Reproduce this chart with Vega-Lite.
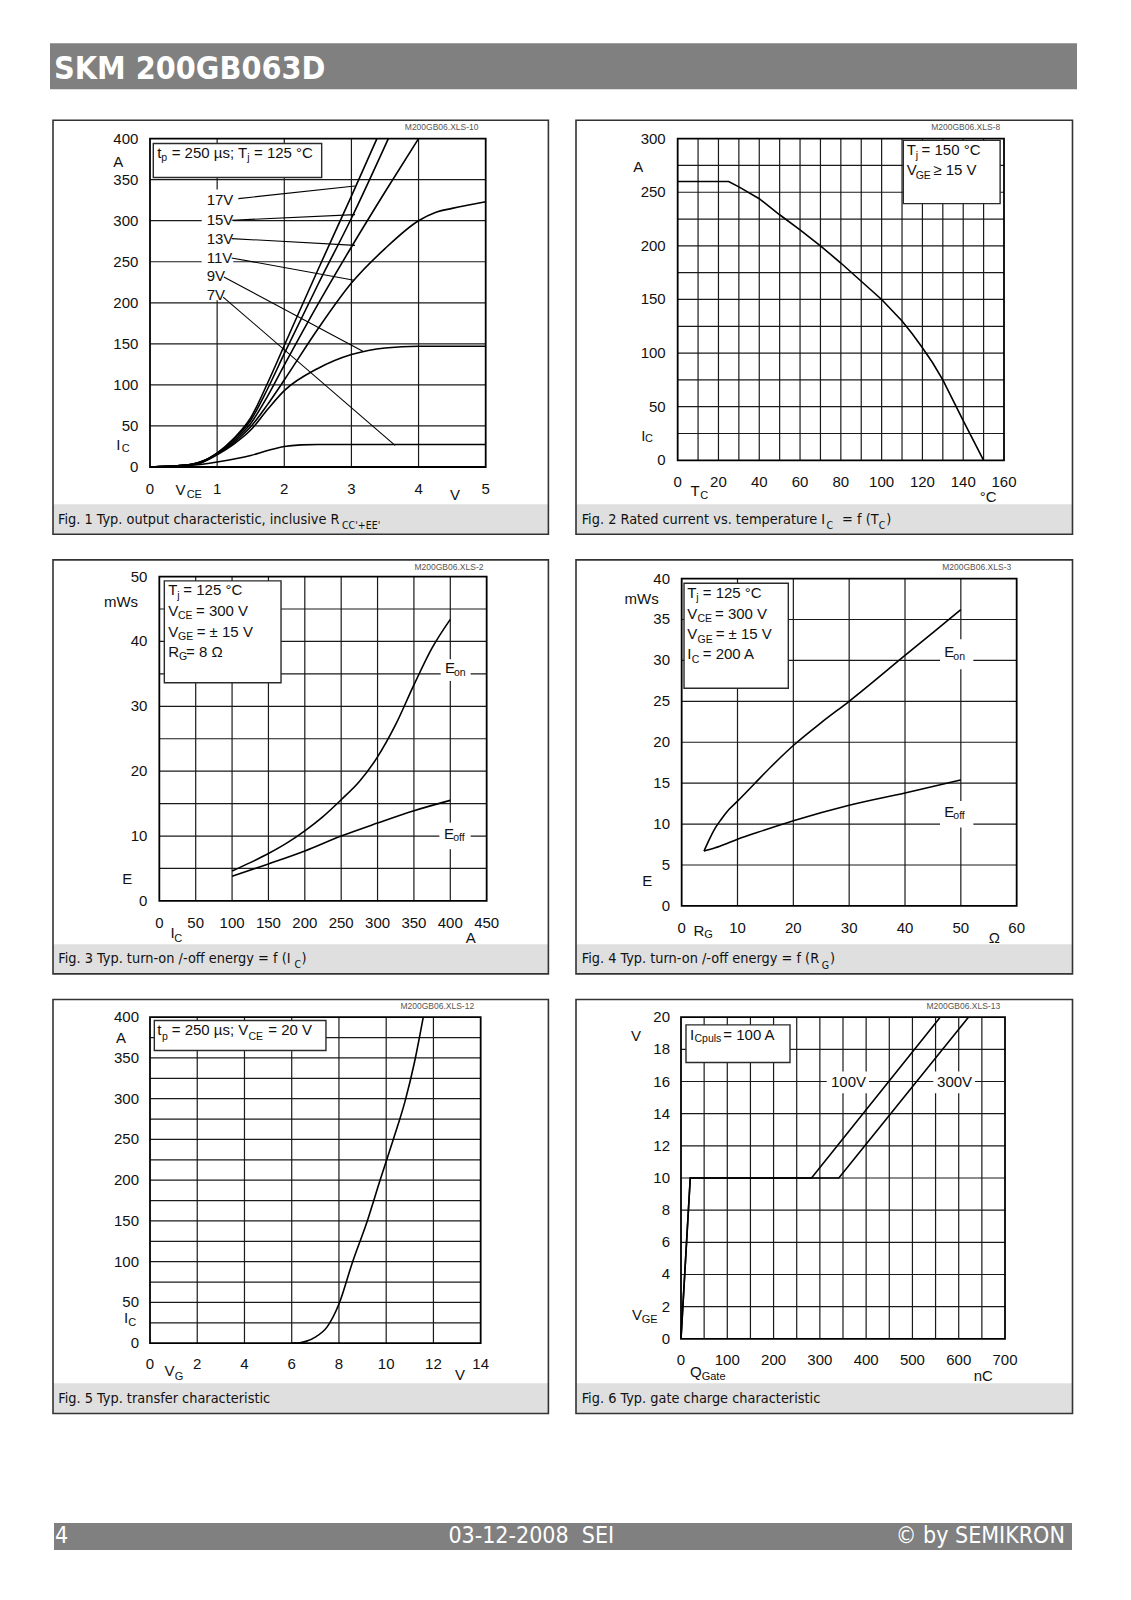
{
"$schema":"https://vega.github.io/schema/vega-lite/v6.json",
"background":"#ffffff",
"padding":{"left":50,"top":43,"right":0,"bottom":0},
"spacing":21.6,
"resolve":{"scale":{"x":"independent","y":"independent"}},
"config":{"view":{"stroke":null},"text":{"font":"Liberation Sans","color":"#111111"}},
"datasets":{"figs":[
{"f":"1","k":"dom","x":-1.4894,"x2":5.9577,"y":-84.04,"y2":424.36},
{"f":"1","k":"band","x":-1.4447,"x2":5.9339,"y":-81.97,"y2":-45.43},
{"f":"1","k":"frame","x":-1.4447,"x2":5.9339,"y":-81.97,"y2":422.29},
{"f":"1","k":"border","x":0,"x2":5,"y":0,"y2":400},
{"f":"1","k":"g","x":1,"x2":1,"y":0,"y2":400},
{"f":"1","k":"g","x":2,"x2":2,"y":0,"y2":400},
{"f":"1","k":"g","x":3,"x2":3,"y":0,"y2":400},
{"f":"1","k":"g","x":4,"x2":4,"y":0,"y2":400},
{"f":"1","k":"g","x":0,"x2":5,"y":50,"y2":50},
{"f":"1","k":"g","x":0,"x2":5,"y":100,"y2":100},
{"f":"1","k":"g","x":0,"x2":5,"y":150,"y2":150},
{"f":"1","k":"g","x":0,"x2":5,"y":200,"y2":200},
{"f":"1","k":"g","x":0,"x2":5,"y":250,"y2":250},
{"f":"1","k":"g","x":0,"x2":5,"y":300,"y2":300},
{"f":"1","k":"g","x":0,"x2":5,"y":350,"y2":350},
{"f":"1","k":"m","x":0.77,"x2":1.24,"y":203,"y2":338},
{"f":"1","k":"box","x":0.049,"x2":2.557,"y":352.6,"y2":394},
{"f":"1","k":"c","s":"17V","x":0,"y":0},{"f":"1","k":"c","s":"17V","x":0.5,"y":2},{"f":"1","k":"c","s":"17V","x":0.75,"y":6},{"f":"1","k":"c","s":"17V","x":1,"y":17},{"f":"1","k":"c","s":"17V","x":1.25,"y":35},{"f":"1","k":"c","s":"17V","x":1.5,"y":60},{"f":"1","k":"c","s":"17V","x":1.75,"y":102},{"f":"1","k":"c","s":"17V","x":2,"y":148},{"f":"1","k":"c","s":"17V","x":2.5,"y":240},{"f":"1","k":"c","s":"17V","x":3,"y":330},{"f":"1","k":"c","s":"17V","x":3.38,"y":400},
{"f":"1","k":"c","s":"15V","x":0,"y":0},{"f":"1","k":"c","s":"15V","x":0.5,"y":2},{"f":"1","k":"c","s":"15V","x":0.75,"y":6},{"f":"1","k":"c","s":"15V","x":1,"y":17},{"f":"1","k":"c","s":"15V","x":1.25,"y":34},{"f":"1","k":"c","s":"15V","x":1.5,"y":57},{"f":"1","k":"c","s":"15V","x":1.75,"y":95},{"f":"1","k":"c","s":"15V","x":2,"y":138},{"f":"1","k":"c","s":"15V","x":2.5,"y":222},{"f":"1","k":"c","s":"15V","x":3,"y":303},{"f":"1","k":"c","s":"15V","x":3.55,"y":400},
{"f":"1","k":"c","s":"13V","x":0,"y":0},{"f":"1","k":"c","s":"13V","x":0.5,"y":2},{"f":"1","k":"c","s":"13V","x":0.75,"y":6},{"f":"1","k":"c","s":"13V","x":1,"y":16},{"f":"1","k":"c","s":"13V","x":1.25,"y":32},{"f":"1","k":"c","s":"13V","x":1.5,"y":53},{"f":"1","k":"c","s":"13V","x":1.75,"y":86},{"f":"1","k":"c","s":"13V","x":2,"y":124},{"f":"1","k":"c","s":"13V","x":2.5,"y":198},{"f":"1","k":"c","s":"13V","x":3,"y":268},{"f":"1","k":"c","s":"13V","x":3.5,"y":335},{"f":"1","k":"c","s":"13V","x":4,"y":400},
{"f":"1","k":"c","s":"11V","x":0,"y":0},{"f":"1","k":"c","s":"11V","x":0.5,"y":2},{"f":"1","k":"c","s":"11V","x":0.75,"y":5},{"f":"1","k":"c","s":"11V","x":1,"y":16},{"f":"1","k":"c","s":"11V","x":1.25,"y":30},{"f":"1","k":"c","s":"11V","x":1.5,"y":49},{"f":"1","k":"c","s":"11V","x":1.75,"y":76},{"f":"1","k":"c","s":"11V","x":2,"y":106},{"f":"1","k":"c","s":"11V","x":2.5,"y":168},{"f":"1","k":"c","s":"11V","x":3,"y":224},{"f":"1","k":"c","s":"11V","x":3.5,"y":266},{"f":"1","k":"c","s":"11V","x":4,"y":300},{"f":"1","k":"c","s":"11V","x":4.25,"y":310},{"f":"1","k":"c","s":"11V","x":4.5,"y":315},{"f":"1","k":"c","s":"11V","x":5,"y":323},
{"f":"1","k":"c","s":"9V","x":0,"y":0},{"f":"1","k":"c","s":"9V","x":0.5,"y":2},{"f":"1","k":"c","s":"9V","x":0.75,"y":5},{"f":"1","k":"c","s":"9V","x":1,"y":15},{"f":"1","k":"c","s":"9V","x":1.25,"y":28},{"f":"1","k":"c","s":"9V","x":1.5,"y":45},{"f":"1","k":"c","s":"9V","x":1.75,"y":70},{"f":"1","k":"c","s":"9V","x":2,"y":93},{"f":"1","k":"c","s":"9V","x":2.5,"y":120},{"f":"1","k":"c","s":"9V","x":3,"y":137},{"f":"1","k":"c","s":"9V","x":3.25,"y":142},{"f":"1","k":"c","s":"9V","x":3.5,"y":145},{"f":"1","k":"c","s":"9V","x":4,"y":147},{"f":"1","k":"c","s":"9V","x":5,"y":147},
{"f":"1","k":"c","s":"7V","x":0,"y":0},{"f":"1","k":"c","s":"7V","x":0.5,"y":1},{"f":"1","k":"c","s":"7V","x":0.75,"y":3},{"f":"1","k":"c","s":"7V","x":1,"y":6},{"f":"1","k":"c","s":"7V","x":1.5,"y":14},{"f":"1","k":"c","s":"7V","x":1.75,"y":20},{"f":"1","k":"c","s":"7V","x":2,"y":25},{"f":"1","k":"c","s":"7V","x":2.25,"y":27},{"f":"1","k":"c","s":"7V","x":2.5,"y":27.5},{"f":"1","k":"c","s":"7V","x":5,"y":27.5},
{"f":"1","k":"p","x":1.316,"y":326.9,"x2":3.054,"y2":342.3},
{"f":"1","k":"p","x":1.216,"y":300.5,"x2":3.054,"y2":307.4},
{"f":"1","k":"p","x":1.216,"y":278.2,"x2":3.054,"y2":270},
{"f":"1","k":"p","x":1.216,"y":254.6,"x2":3.04,"y2":227.4},
{"f":"1","k":"p","x":1.1,"y":231.5,"x2":3.17,"y2":141},
{"f":"1","k":"p","x":1.09,"y":207,"x2":3.65,"y2":26.4},
{"f":"1","k":"yl","x":-0.174,"y":0,"t":"0"},{"f":"1","k":"yl","x":-0.174,"y":50,"t":"50"},{"f":"1","k":"yl","x":-0.174,"y":100,"t":"100"},{"f":"1","k":"yl","x":-0.174,"y":150,"t":"150"},{"f":"1","k":"yl","x":-0.174,"y":200,"t":"200"},{"f":"1","k":"yl","x":-0.174,"y":250,"t":"250"},{"f":"1","k":"yl","x":-0.174,"y":300,"t":"300"},{"f":"1","k":"yl","x":-0.174,"y":350,"t":"350"},{"f":"1","k":"yl","x":-0.174,"y":400,"t":"400"},
{"f":"1","k":"xl","x":0,"y":-26.3,"t":"0"},{"f":"1","k":"xl","x":1,"y":-26.3,"t":"1"},{"f":"1","k":"xl","x":2,"y":-26.3,"t":"2"},{"f":"1","k":"xl","x":3,"y":-26.3,"t":"3"},{"f":"1","k":"xl","x":4,"y":-26.3,"t":"4"},{"f":"1","k":"xl","x":5,"y":-26.3,"t":"5"},
{"f":"1","k":"tc","x":-0.472,"y":371.5,"t":"A"},{"f":"1","k":"tc","x":-0.472,"y":26.4,"t":"I"},{"f":"1","k":"tc","x":0.454,"y":-28.4,"t":"V"},{"f":"1","k":"tc","x":4.543,"y":-34.5,"t":"V"},
{"f":"1","k":"sm","x":-0.422,"y":22.4,"t":"C"},{"f":"1","k":"sm","x":0.546,"y":-34.5,"t":"CE"},
{"f":"1","k":"tl","x":0.844,"y":324.8,"t":"17V"},{"f":"1","k":"tl","x":0.844,"y":301.3,"t":"15V"},{"f":"1","k":"tl","x":0.844,"y":278.2,"t":"13V"},{"f":"1","k":"tl","x":0.844,"y":255,"t":"11V"},{"f":"1","k":"tl","x":0.844,"y":232.3,"t":"9V"},{"f":"1","k":"tl","x":0.844,"y":209.1,"t":"7V"},
{"f":"1","k":"ta","x":0.109,"y":376.4,"t":"t"},{"f":"1","k":"ta","x":0.323,"y":376.4,"t":"= 250 µs; T"},{"f":"1","k":"ta","x":1.549,"y":376.4,"t":"= 125 °C"},
{"f":"1","k":"sa","x":0.168,"y":372.3,"t":"p"},{"f":"1","k":"sa","x":1.45,"y":372.3,"t":"j"},
{"f":"1","k":"cap","x":-1.37,"y":-68.9,"t":"Fig. 1 Typ. output characteristic, inclusive R"},
{"f":"1","k":"caps","x":2.86,"y":-75,"t":"CC'+EE'"},
{"f":"1","k":"fid","x":4.344,"y":414.2,"t":"M200GB06.XLS-10"},

{"f":"2","k":"dom","x":-51.32,"x2":193.83,"y":-70.6,"y2":318.69},
{"f":"2","k":"band","x":-49.85,"x2":193.58,"y":-69.02,"y2":-41.04},
{"f":"2","k":"frame","x":-49.85,"x2":193.58,"y":-69.02,"y2":317.11},
{"f":"2","k":"border","x":0,"x2":160,"y":0,"y2":300},
{"f":"2","k":"g","x":10,"x2":10,"y":0,"y2":300},{"f":"2","k":"g","x":20,"x2":20,"y":0,"y2":300},{"f":"2","k":"g","x":30,"x2":30,"y":0,"y2":300},{"f":"2","k":"g","x":40,"x2":40,"y":0,"y2":300},{"f":"2","k":"g","x":50,"x2":50,"y":0,"y2":300},{"f":"2","k":"g","x":60,"x2":60,"y":0,"y2":300},{"f":"2","k":"g","x":70,"x2":70,"y":0,"y2":300},{"f":"2","k":"g","x":80,"x2":80,"y":0,"y2":300},{"f":"2","k":"g","x":90,"x2":90,"y":0,"y2":300},{"f":"2","k":"g","x":100,"x2":100,"y":0,"y2":300},{"f":"2","k":"g","x":110,"x2":110,"y":0,"y2":300},{"f":"2","k":"g","x":120,"x2":120,"y":0,"y2":300},{"f":"2","k":"g","x":130,"x2":130,"y":0,"y2":300},{"f":"2","k":"g","x":140,"x2":140,"y":0,"y2":300},{"f":"2","k":"g","x":150,"x2":150,"y":0,"y2":300},
{"f":"2","k":"g","x":0,"x2":160,"y":25,"y2":25},{"f":"2","k":"g","x":0,"x2":160,"y":50,"y2":50},{"f":"2","k":"g","x":0,"x2":160,"y":75,"y2":75},{"f":"2","k":"g","x":0,"x2":160,"y":100,"y2":100},{"f":"2","k":"g","x":0,"x2":160,"y":125,"y2":125},{"f":"2","k":"g","x":0,"x2":160,"y":150,"y2":150},{"f":"2","k":"g","x":0,"x2":160,"y":175,"y2":175},{"f":"2","k":"g","x":0,"x2":160,"y":200,"y2":200},{"f":"2","k":"g","x":0,"x2":160,"y":225,"y2":225},{"f":"2","k":"g","x":0,"x2":160,"y":250,"y2":250},{"f":"2","k":"g","x":0,"x2":160,"y":275,"y2":275},
{"f":"2","k":"box","x":110.63,"x2":158.1,"y":239.4,"y2":298.4},
{"f":"2","k":"c","s":"a","x":0,"y":260},{"f":"2","k":"c","s":"a","x":25,"y":260},{"f":"2","k":"c","s":"a","x":30,"y":255},{"f":"2","k":"c","s":"a","x":40,"y":244},{"f":"2","k":"c","s":"a","x":50,"y":229},{"f":"2","k":"c","s":"a","x":60,"y":215},{"f":"2","k":"c","s":"a","x":70,"y":200},{"f":"2","k":"c","s":"a","x":80,"y":184},{"f":"2","k":"c","s":"a","x":90,"y":167},{"f":"2","k":"c","s":"a","x":100,"y":150},{"f":"2","k":"c","s":"a","x":110,"y":130},{"f":"2","k":"c","s":"a","x":115,"y":118},{"f":"2","k":"c","s":"a","x":120,"y":105},{"f":"2","k":"c","s":"a","x":125,"y":91},{"f":"2","k":"c","s":"a","x":130,"y":75},{"f":"2","k":"c","s":"a","x":140,"y":37},{"f":"2","k":"c","s":"a","x":150,"y":0},
{"f":"2","k":"yl","x":-5.88,"y":0,"t":"0"},{"f":"2","k":"yl","x":-5.88,"y":50,"t":"50"},{"f":"2","k":"yl","x":-5.88,"y":100,"t":"100"},{"f":"2","k":"yl","x":-5.88,"y":150,"t":"150"},{"f":"2","k":"yl","x":-5.88,"y":200,"t":"200"},{"f":"2","k":"yl","x":-5.88,"y":250,"t":"250"},{"f":"2","k":"yl","x":-5.88,"y":300,"t":"300"},
{"f":"2","k":"xl","x":0,"y":-20.2,"t":"0"},{"f":"2","k":"xl","x":20,"y":-20.2,"t":"20"},{"f":"2","k":"xl","x":40,"y":-20.2,"t":"40"},{"f":"2","k":"xl","x":60,"y":-20.2,"t":"60"},{"f":"2","k":"xl","x":80,"y":-20.2,"t":"80"},{"f":"2","k":"xl","x":100,"y":-20.2,"t":"100"},{"f":"2","k":"xl","x":120,"y":-20.2,"t":"120"},{"f":"2","k":"xl","x":140,"y":-20.2,"t":"140"},{"f":"2","k":"xl","x":160,"y":-20.2,"t":"160"},
{"f":"2","k":"tc","x":-19.3,"y":273.6,"t":"A"},{"f":"2","k":"tc","x":-16.8,"y":22.7,"t":"I"},{"f":"2","k":"tc","x":8.5,"y":-28.9,"t":"T"},{"f":"2","k":"tc","x":152.3,"y":-34.2,"t":"°C"},
{"f":"2","k":"sm","x":-16,"y":19.6,"t":"C"},{"f":"2","k":"sm","x":11.1,"y":-33.6,"t":"C"},
{"f":"2","k":"ta","x":112.3,"y":284.5,"t":"T"},{"f":"2","k":"ta","x":119.6,"y":284.5,"t":"= 150 °C"},{"f":"2","k":"ta","x":112.3,"y":265.8,"t":"V"},{"f":"2","k":"ta","x":125.3,"y":265.8,"t":"≥ 15 V"},
{"f":"2","k":"sa","x":116.7,"y":281.4,"t":"j"},{"f":"2","k":"sa","x":116.7,"y":262.7,"t":"GE"},
{"f":"2","k":"cap","x":-47.05,"y":-59.04,"t":"Fig. 2 Rated current vs. temperature I"},{"f":"2","k":"cap","x":80.6,"y":-59.04,"t":"= f (T"},{"f":"2","k":"cap","x":102.3,"y":-59.04,"t":")"},
{"f":"2","k":"caps","x":73,"y":-63.7,"t":"C"},{"f":"2","k":"caps","x":98.6,"y":-63.7,"t":"C"},
{"f":"2","k":"fid","x":141.2,"y":310.9,"t":"M200GB06.XLS-8"},

{"f":"3","k":"dom","x":-150.3,"x2":537.07,"y":-11.516,"y2":52.831},
{"f":"3","k":"band","x":-146.18,"x2":534.87,"y":-11.254,"y2":-6.675},
{"f":"3","k":"frame","x":-146.18,"x2":534.87,"y":-11.254,"y2":52.569},
{"f":"3","k":"border","x":0,"x2":450,"y":0,"y2":50},
{"f":"3","k":"g","x":50,"x2":50,"y":0,"y2":50},{"f":"3","k":"g","x":100,"x2":100,"y":0,"y2":50},{"f":"3","k":"g","x":150,"x2":150,"y":0,"y2":50},{"f":"3","k":"g","x":200,"x2":200,"y":0,"y2":50},{"f":"3","k":"g","x":250,"x2":250,"y":0,"y2":50},{"f":"3","k":"g","x":300,"x2":300,"y":0,"y2":50},{"f":"3","k":"g","x":350,"x2":350,"y":0,"y2":50},{"f":"3","k":"g","x":400,"x2":400,"y":0,"y2":50},
{"f":"3","k":"g","x":0,"x2":450,"y":5,"y2":5},{"f":"3","k":"g","x":0,"x2":450,"y":10,"y2":10},{"f":"3","k":"g","x":0,"x2":450,"y":15,"y2":15},{"f":"3","k":"g","x":0,"x2":450,"y":20,"y2":20},{"f":"3","k":"g","x":0,"x2":450,"y":25,"y2":25},{"f":"3","k":"g","x":0,"x2":450,"y":30,"y2":30},{"f":"3","k":"g","x":0,"x2":450,"y":35,"y2":35},{"f":"3","k":"g","x":0,"x2":450,"y":40,"y2":40},{"f":"3","k":"g","x":0,"x2":450,"y":45,"y2":45},
{"f":"3","k":"m","x":386.8,"x2":428,"y":33.91,"y2":37.26},{"f":"3","k":"m","x":385,"x2":428,"y":7.97,"y2":12.07},
{"f":"3","k":"box","x":6.87,"x2":167.3,"y":33.64,"y2":49.33},
{"f":"3","k":"c","s":"on","x":100,"y":4.6},{"f":"3","k":"c","s":"on","x":125,"y":5.9},{"f":"3","k":"c","s":"on","x":150,"y":7.3},{"f":"3","k":"c","s":"on","x":175,"y":8.9},{"f":"3","k":"c","s":"on","x":200,"y":10.8},{"f":"3","k":"c","s":"on","x":225,"y":13},{"f":"3","k":"c","s":"on","x":250,"y":15.6},{"f":"3","k":"c","s":"on","x":275,"y":18.4},{"f":"3","k":"c","s":"on","x":300,"y":22.2},{"f":"3","k":"c","s":"on","x":325,"y":27.2},{"f":"3","k":"c","s":"on","x":350,"y":33.3},{"f":"3","k":"c","s":"on","x":375,"y":39},{"f":"3","k":"c","s":"on","x":400,"y":43.4},
{"f":"3","k":"c","s":"off","x":100,"y":3.8},{"f":"3","k":"c","s":"off","x":150,"y":5.7},{"f":"3","k":"c","s":"off","x":200,"y":7.7},{"f":"3","k":"c","s":"off","x":250,"y":10},{"f":"3","k":"c","s":"off","x":300,"y":12},{"f":"3","k":"c","s":"off","x":350,"y":13.9},{"f":"3","k":"c","s":"off","x":400,"y":15.5},
{"f":"3","k":"yl","x":-16.5,"y":0,"t":"0"},{"f":"3","k":"yl","x":-16.5,"y":10,"t":"10"},{"f":"3","k":"yl","x":-16.5,"y":20,"t":"20"},{"f":"3","k":"yl","x":-16.5,"y":30,"t":"30"},{"f":"3","k":"yl","x":-16.5,"y":40,"t":"40"},{"f":"3","k":"yl","x":-16.5,"y":50,"t":"50"},
{"f":"3","k":"xl","x":0,"y":-3.345,"t":"0"},{"f":"3","k":"xl","x":50,"y":-3.345,"t":"50"},{"f":"3","k":"xl","x":100,"y":-3.345,"t":"100"},{"f":"3","k":"xl","x":150,"y":-3.345,"t":"150"},{"f":"3","k":"xl","x":200,"y":-3.345,"t":"200"},{"f":"3","k":"xl","x":250,"y":-3.345,"t":"250"},{"f":"3","k":"xl","x":300,"y":-3.345,"t":"300"},{"f":"3","k":"xl","x":350,"y":-3.345,"t":"350"},{"f":"3","k":"xl","x":400,"y":-3.345,"t":"400"},{"f":"3","k":"xl","x":450,"y":-3.345,"t":"450"},
{"f":"3","k":"tc","x":-52.7,"y":46.1,"t":"mWs"},{"f":"3","k":"tc","x":-44,"y":3.34,"t":"E"},{"f":"3","k":"tc","x":18.38,"y":-4.89,"t":"I"},{"f":"3","k":"tc","x":428,"y":-5.66,"t":"A"},
{"f":"3","k":"sm","x":20.6,"y":-5.81,"t":"C"},
{"f":"3","k":"ta","x":12.35,"y":47.13,"t":"T"},{"f":"3","k":"ta","x":32.95,"y":47.13,"t":"= 125 °C"},{"f":"3","k":"ta","x":12.35,"y":43.94,"t":"V"},{"f":"3","k":"ta","x":50.41,"y":43.94,"t":"= 300 V"},{"f":"3","k":"ta","x":12.35,"y":40.75,"t":"V"},{"f":"3","k":"ta","x":51.37,"y":40.75,"t":"= ± 15 V"},{"f":"3","k":"ta","x":12.35,"y":37.66,"t":"R"},{"f":"3","k":"ta","x":36.66,"y":37.66,"t":"= 8 Ω"},
{"f":"3","k":"ta","x":392.72,"y":35.1,"t":"E"},{"f":"3","k":"ta","x":391.3,"y":9.6,"t":"E"},
{"f":"3","k":"sa","x":24.7,"y":46.6,"t":"j"},{"f":"3","k":"sa","x":25.67,"y":43.43,"t":"CE"},{"f":"3","k":"sa","x":25.67,"y":40.24,"t":"GE"},{"f":"3","k":"sa","x":27.04,"y":37.15,"t":"G"},{"f":"3","k":"sa","x":405.1,"y":34.7,"t":"on"},{"f":"3","k":"sa","x":404.1,"y":9.25,"t":"off"},
{"f":"3","k":"cap","x":-138.89,"y":-9.51,"t":"Fig. 3 Typ. turn-on /-off energy = f (I"},{"f":"3","k":"cap","x":195.4,"y":-9.51,"t":")"},
{"f":"3","k":"caps","x":185.9,"y":-10.28,"t":"C"},
{"f":"3","k":"fid","x":398.2,"y":51.54,"t":"M200GB06.XLS-2"},

{"f":"4","k":"dom","x":-19.463,"x2":70.089,"y":-8.517,"y2":42.489},
{"f":"4","k":"band","x":-18.926,"x2":70,"y":-8.31,"y2":-4.68},
{"f":"4","k":"frame","x":-18.926,"x2":70,"y":-8.31,"y2":42.281},
{"f":"4","k":"border","x":0,"x2":60,"y":0,"y2":40},
{"f":"4","k":"g","x":10,"x2":10,"y":0,"y2":40},{"f":"4","k":"g","x":20,"x2":20,"y":0,"y2":40},{"f":"4","k":"g","x":30,"x2":30,"y":0,"y2":40},{"f":"4","k":"g","x":40,"x2":40,"y":0,"y2":40},{"f":"4","k":"g","x":50,"x2":50,"y":0,"y2":40},
{"f":"4","k":"g","x":0,"x2":60,"y":5,"y2":5},{"f":"4","k":"g","x":0,"x2":60,"y":10,"y2":10},{"f":"4","k":"g","x":0,"x2":60,"y":15,"y2":15},{"f":"4","k":"g","x":0,"x2":60,"y":20,"y2":20},{"f":"4","k":"g","x":0,"x2":60,"y":25,"y2":25},{"f":"4","k":"g","x":0,"x2":60,"y":30,"y2":30},{"f":"4","k":"g","x":0,"x2":60,"y":35,"y2":35},
{"f":"4","k":"m","x":46.27,"x2":52.24,"y":28.93,"y2":32.59},{"f":"4","k":"m","x":46.27,"x2":52.24,"y":9.57,"y2":12.83},
{"f":"4","k":"box","x":0.42,"x2":19.1,"y":26.6,"y2":39.43},
{"f":"4","k":"c","s":"on","x":4,"y":6.7},{"f":"4","k":"c","s":"on","x":5,"y":8.2},{"f":"4","k":"c","s":"on","x":6,"y":9.5},{"f":"4","k":"c","s":"on","x":7,"y":10.5},{"f":"4","k":"c","s":"on","x":8.5,"y":11.8},{"f":"4","k":"c","s":"on","x":10,"y":12.8},{"f":"4","k":"c","s":"on","x":13,"y":14.9},{"f":"4","k":"c","s":"on","x":16,"y":17},{"f":"4","k":"c","s":"on","x":20,"y":19.6},{"f":"4","k":"c","s":"on","x":25,"y":22.4},{"f":"4","k":"c","s":"on","x":30,"y":25},{"f":"4","k":"c","s":"on","x":40,"y":30.6},{"f":"4","k":"c","s":"on","x":50,"y":36.2},
{"f":"4","k":"c","s":"off","x":4,"y":6.7},{"f":"4","k":"c","s":"off","x":6,"y":7.1},{"f":"4","k":"c","s":"off","x":8,"y":7.6},{"f":"4","k":"c","s":"off","x":10,"y":8.15},{"f":"4","k":"c","s":"off","x":15,"y":9.3},{"f":"4","k":"c","s":"off","x":20,"y":10.4},{"f":"4","k":"c","s":"off","x":30,"y":12.3},{"f":"4","k":"c","s":"off","x":40,"y":13.8},{"f":"4","k":"c","s":"off","x":50,"y":15.4},
{"f":"4","k":"yl","x":-2.09,"y":0,"t":"0"},{"f":"4","k":"yl","x":-2.09,"y":5,"t":"5"},{"f":"4","k":"yl","x":-2.09,"y":10,"t":"10"},{"f":"4","k":"yl","x":-2.09,"y":15,"t":"15"},{"f":"4","k":"yl","x":-2.09,"y":20,"t":"20"},{"f":"4","k":"yl","x":-2.09,"y":25,"t":"25"},{"f":"4","k":"yl","x":-2.09,"y":30,"t":"30"},{"f":"4","k":"yl","x":-2.09,"y":35,"t":"35"},{"f":"4","k":"yl","x":-2.09,"y":40,"t":"40"},
{"f":"4","k":"xl","x":0,"y":-2.65,"t":"0"},{"f":"4","k":"xl","x":10,"y":-2.65,"t":"10"},{"f":"4","k":"xl","x":20,"y":-2.65,"t":"20"},{"f":"4","k":"xl","x":30,"y":-2.65,"t":"30"},{"f":"4","k":"xl","x":40,"y":-2.65,"t":"40"},{"f":"4","k":"xl","x":50,"y":-2.65,"t":"50"},{"f":"4","k":"xl","x":60,"y":-2.65,"t":"60"},
{"f":"4","k":"tc","x":-7.16,"y":37.48,"t":"mWs"},{"f":"4","k":"tc","x":-6.15,"y":3.05,"t":"E"},{"f":"4","k":"tc","x":3.08,"y":-3.05,"t":"R"},{"f":"4","k":"tc","x":56,"y":-3.87,"t":"Ω"},
{"f":"4","k":"sm","x":4.05,"y":-3.58,"t":"G"},
{"f":"4","k":"ta","x":1.01,"y":37.67,"t":"T"},{"f":"4","k":"ta","x":3.77,"y":37.67,"t":"= 125 °C"},{"f":"4","k":"ta","x":1.01,"y":35.11,"t":"V"},{"f":"4","k":"ta","x":5.97,"y":35.11,"t":"= 300 V"},{"f":"4","k":"ta","x":1.01,"y":32.59,"t":"V"},{"f":"4","k":"ta","x":6.09,"y":32.59,"t":"= ± 15 V"},{"f":"4","k":"ta","x":1.01,"y":30.15,"t":"I"},{"f":"4","k":"ta","x":3.77,"y":30.15,"t":"= 200 A"},
{"f":"4","k":"ta","x":47.04,"y":30.43,"t":"E"},{"f":"4","k":"ta","x":47.04,"y":10.88,"t":"E"},
{"f":"4","k":"sa","x":2.63,"y":37.27,"t":"j"},{"f":"4","k":"sa","x":2.84,"y":34.7,"t":"CE"},{"f":"4","k":"sa","x":2.84,"y":32.18,"t":"GE"},{"f":"4","k":"sa","x":1.79,"y":29.74,"t":"C"},{"f":"4","k":"sa","x":48.65,"y":30.06,"t":"on"},{"f":"4","k":"sa","x":48.65,"y":10.59,"t":"off"},
{"f":"4","k":"cap","x":-17.9,"y":-7,"t":"Fig. 4 Typ. turn-on /-off energy = f (R"},{"f":"4","k":"cap","x":26.57,"y":-7,"t":")"},
{"f":"4","k":"caps","x":25.1,"y":-7.74,"t":"G"},
{"f":"4","k":"fid","x":52.84,"y":41.46,"t":"M200GB06.XLS-3"},

{"f":"5","k":"dom","x":-4.2339,"x2":16.9355,"y":-88.38,"y2":423.77},
{"f":"5","k":"band","x":-4.1069,"x2":16.868,"y":-86.29,"y2":-49.12},
{"f":"5","k":"frame","x":-4.1069,"x2":16.868,"y":-86.29,"y2":421.68},
{"f":"5","k":"border","x":0,"x2":14,"y":0,"y2":400},
{"f":"5","k":"g","x":2,"x2":2,"y":0,"y2":400},{"f":"5","k":"g","x":4,"x2":4,"y":0,"y2":400},{"f":"5","k":"g","x":6,"x2":6,"y":0,"y2":400},{"f":"5","k":"g","x":8,"x2":8,"y":0,"y2":400},{"f":"5","k":"g","x":10,"x2":10,"y":0,"y2":400},{"f":"5","k":"g","x":12,"x2":12,"y":0,"y2":400},
{"f":"5","k":"g","x":0,"x2":14,"y":25,"y2":25},{"f":"5","k":"g","x":0,"x2":14,"y":50,"y2":50},{"f":"5","k":"g","x":0,"x2":14,"y":75,"y2":75},{"f":"5","k":"g","x":0,"x2":14,"y":100,"y2":100},{"f":"5","k":"g","x":0,"x2":14,"y":125,"y2":125},{"f":"5","k":"g","x":0,"x2":14,"y":150,"y2":150},{"f":"5","k":"g","x":0,"x2":14,"y":175,"y2":175},{"f":"5","k":"g","x":0,"x2":14,"y":200,"y2":200},{"f":"5","k":"g","x":0,"x2":14,"y":225,"y2":225},{"f":"5","k":"g","x":0,"x2":14,"y":250,"y2":250},{"f":"5","k":"g","x":0,"x2":14,"y":275,"y2":275},{"f":"5","k":"g","x":0,"x2":14,"y":300,"y2":300},{"f":"5","k":"g","x":0,"x2":14,"y":325,"y2":325},{"f":"5","k":"g","x":0,"x2":14,"y":350,"y2":350},{"f":"5","k":"g","x":0,"x2":14,"y":375,"y2":375},
{"f":"5","k":"box","x":0.183,"x2":7.45,"y":359.1,"y2":395.9},
{"f":"5","k":"c","s":"a","x":6,"y":0},{"f":"5","k":"c","s":"a","x":6.3,"y":0.3},{"f":"5","k":"c","s":"a","x":6.6,"y":2.2},{"f":"5","k":"c","s":"a","x":7,"y":7.5},{"f":"5","k":"c","s":"a","x":7.5,"y":20},{"f":"5","k":"c","s":"a","x":8,"y":48},{"f":"5","k":"c","s":"a","x":8.58,"y":100},{"f":"5","k":"c","s":"a","x":9.2,"y":150},{"f":"5","k":"c","s":"a","x":9.74,"y":200},{"f":"5","k":"c","s":"a","x":10.3,"y":250},{"f":"5","k":"c","s":"a","x":10.8,"y":297},{"f":"5","k":"c","s":"a","x":11.2,"y":345},{"f":"5","k":"c","s":"a","x":11.57,"y":400},
{"f":"5","k":"yl","x":-0.466,"y":0,"t":"0"},{"f":"5","k":"yl","x":-0.466,"y":50,"t":"50"},{"f":"5","k":"yl","x":-0.466,"y":100,"t":"100"},{"f":"5","k":"yl","x":-0.466,"y":150,"t":"150"},{"f":"5","k":"yl","x":-0.466,"y":200,"t":"200"},{"f":"5","k":"yl","x":-0.466,"y":250,"t":"250"},{"f":"5","k":"yl","x":-0.466,"y":300,"t":"300"},{"f":"5","k":"yl","x":-0.466,"y":350,"t":"350"},{"f":"5","k":"yl","x":-0.466,"y":400,"t":"400"},
{"f":"5","k":"xl","x":0,"y":-25.8,"t":"0"},{"f":"5","k":"xl","x":2,"y":-25.8,"t":"2"},{"f":"5","k":"xl","x":4,"y":-25.8,"t":"4"},{"f":"5","k":"xl","x":6,"y":-25.8,"t":"6"},{"f":"5","k":"xl","x":8,"y":-25.8,"t":"8"},{"f":"5","k":"xl","x":10,"y":-25.8,"t":"10"},{"f":"5","k":"xl","x":12,"y":-25.8,"t":"12"},{"f":"5","k":"xl","x":14,"y":-25.8,"t":"14"},
{"f":"5","k":"tc","x":-1.228,"y":374.2,"t":"A"},{"f":"5","k":"tc","x":-1.008,"y":30.6,"t":"I"},{"f":"5","k":"tc","x":0.826,"y":-34.76,"t":"V"},{"f":"5","k":"tc","x":13.125,"y":-38.8,"t":"V"},
{"f":"5","k":"sm","x":-0.918,"y":24.5,"t":"C"},{"f":"5","k":"sm","x":1.045,"y":-40.9,"t":"G"},
{"f":"5","k":"ta","x":0.309,"y":378.4,"t":"t"},{"f":"5","k":"ta","x":0.919,"y":378.4,"t":"= 250 µs; V"},{"f":"5","k":"ta","x":5.009,"y":378.4,"t":"= 20 V"},
{"f":"5","k":"sa","x":0.508,"y":372.2,"t":"p"},{"f":"5","k":"sa","x":4.17,"y":372.2,"t":"CE"},
{"f":"5","k":"cap","x":-3.882,"y":-72.8,"t":"Fig. 5 Typ. transfer characteristic"},
{"f":"5","k":"fid","x":12.164,"y":413.95,"t":"M200GB06.XLS-12"},

{"f":"6","k":"dom","x":-233.33,"x2":846.91,"y":-4.7485,"y2":21.2044},
{"f":"6","k":"band","x":-226.85,"x2":845.84,"y":-4.643,"y2":-2.759},
{"f":"6","k":"frame","x":-226.85,"x2":845.84,"y":-4.643,"y2":21.099},
{"f":"6","k":"border","x":0,"x2":700,"y":0,"y2":20},
{"f":"6","k":"g","x":50,"x2":50,"y":0,"y2":20},{"f":"6","k":"g","x":100,"x2":100,"y":0,"y2":20},{"f":"6","k":"g","x":150,"x2":150,"y":0,"y2":20},{"f":"6","k":"g","x":200,"x2":200,"y":0,"y2":20},{"f":"6","k":"g","x":250,"x2":250,"y":0,"y2":20},{"f":"6","k":"g","x":300,"x2":300,"y":0,"y2":20},{"f":"6","k":"g","x":350,"x2":350,"y":0,"y2":20},{"f":"6","k":"g","x":400,"x2":400,"y":0,"y2":20},{"f":"6","k":"g","x":450,"x2":450,"y":0,"y2":20},{"f":"6","k":"g","x":500,"x2":500,"y":0,"y2":20},{"f":"6","k":"g","x":550,"x2":550,"y":0,"y2":20},{"f":"6","k":"g","x":600,"x2":600,"y":0,"y2":20},{"f":"6","k":"g","x":650,"x2":650,"y":0,"y2":20},
{"f":"6","k":"g","x":0,"x2":700,"y":2,"y2":2},{"f":"6","k":"g","x":0,"x2":700,"y":4,"y2":4},{"f":"6","k":"g","x":0,"x2":700,"y":6,"y2":6},{"f":"6","k":"g","x":0,"x2":700,"y":8,"y2":8},{"f":"6","k":"g","x":0,"x2":700,"y":10,"y2":10},{"f":"6","k":"g","x":0,"x2":700,"y":12,"y2":12},{"f":"6","k":"g","x":0,"x2":700,"y":14,"y2":14},{"f":"6","k":"g","x":0,"x2":700,"y":16,"y2":16},{"f":"6","k":"g","x":0,"x2":700,"y":18,"y2":18},
{"f":"6","k":"m","x":314.8,"x2":406.1,"y":15.27,"y2":16.62},{"f":"6","k":"m","x":545.1,"x2":635.1,"y":15.27,"y2":16.62},
{"f":"6","k":"box","x":10.8,"x2":235.5,"y":17.18,"y2":19.52},
{"f":"6","k":"c","s":"100V","x":0,"y":0},{"f":"6","k":"c","s":"100V","x":20,"y":10},{"f":"6","k":"c","s":"100V","x":282,"y":10},{"f":"6","k":"c","s":"100V","x":560,"y":20},
{"f":"6","k":"c","s":"300V","x":0,"y":0},{"f":"6","k":"c","s":"300V","x":20,"y":10},{"f":"6","k":"c","s":"300V","x":341,"y":10},{"f":"6","k":"c","s":"300V","x":621,"y":20},
{"f":"6","k":"yl","x":-23.77,"y":0,"t":"0"},{"f":"6","k":"yl","x":-23.77,"y":2,"t":"2"},{"f":"6","k":"yl","x":-23.77,"y":4,"t":"4"},{"f":"6","k":"yl","x":-23.77,"y":6,"t":"6"},{"f":"6","k":"yl","x":-23.77,"y":8,"t":"8"},{"f":"6","k":"yl","x":-23.77,"y":10,"t":"10"},{"f":"6","k":"yl","x":-23.77,"y":12,"t":"12"},{"f":"6","k":"yl","x":-23.77,"y":14,"t":"14"},{"f":"6","k":"yl","x":-23.77,"y":16,"t":"16"},{"f":"6","k":"yl","x":-23.77,"y":18,"t":"18"},{"f":"6","k":"yl","x":-23.77,"y":20,"t":"20"},
{"f":"6","k":"xl","x":0,"y":-1.347,"t":"0"},{"f":"6","k":"xl","x":100,"y":-1.347,"t":"100"},{"f":"6","k":"xl","x":200,"y":-1.347,"t":"200"},{"f":"6","k":"xl","x":300,"y":-1.347,"t":"300"},{"f":"6","k":"xl","x":400,"y":-1.347,"t":"400"},{"f":"6","k":"xl","x":500,"y":-1.347,"t":"500"},{"f":"6","k":"xl","x":600,"y":-1.347,"t":"600"},{"f":"6","k":"xl","x":700,"y":-1.347,"t":"700"},
{"f":"6","k":"tc","x":-97.2,"y":18.84,"t":"V"},{"f":"6","k":"tc","x":-95.1,"y":1.49,"t":"V"},{"f":"6","k":"tc","x":32,"y":-2.09,"t":"Q"},{"f":"6","k":"tc","x":653.2,"y":-2.34,"t":"nC"},
{"f":"6","k":"sm","x":-84.9,"y":1.18,"t":"GE"},{"f":"6","k":"sm","x":44.7,"y":-2.4,"t":"Gate"},
{"f":"6","k":"tl","x":324.1,"y":16,"t":"100V"},{"f":"6","k":"tl","x":553.2,"y":16,"t":"300V"},
{"f":"6","k":"ta","x":19.44,"y":18.59,"t":"I"},{"f":"6","k":"ta","x":91.39,"y":18.59,"t":"= 100 A"},
{"f":"6","k":"sa","x":29.2,"y":18.43,"t":"Cpuls"},
{"f":"6","k":"cap","x":-214.5,"y":-3.959,"t":"Fig. 6 Typ. gate charge characteristic"},
{"f":"6","k":"fid","x":609.9,"y":20.71,"t":"M200GB06.XLS-13"}
]},
"vconcat":[
{
"width":1027,"height":53.7,
"data":{"values":[{"k":"bar","x":0,"x2":100,"y":0,"y2":100},{"k":"t","x":0.39,"y":21.7,"t":"SKM 200GB063D"}]},
"encoding":{"x":{"field":"x","type":"quantitative","scale":{"domain":[0,100],"nice":false,"zero":false},"axis":null},"y":{"field":"y","type":"quantitative","scale":{"domain":[-16.09,100.65],"nice":false,"zero":false},"axis":null}},
"layer":[
{"transform":[{"filter":"datum.k==='bar'"}],"mark":{"type":"rect","fill":"#808080"},"encoding":{"x2":{"field":"x2"},"y2":{"field":"y2"}}},
{"transform":[{"filter":"datum.k==='t'"}],"mark":{"type":"text","align":"left","baseline":"alphabetic","font":"DejaVu Sans Condensed, DejaVu Sans","fontWeight":"bold","fontSize":32,"color":"#ffffff"},"encoding":{"text":{"field":"t"}}}
]
},
{"hconcat":[
{"width":500,"height":417.4,"data":{"name":"figs"},"transform":[{"filter":"datum.f==='1'"}],
"encoding":{"x":{"field":"x","type":"quantitative","scale":{"nice":false,"zero":false},"axis":null},"y":{"field":"y","type":"quantitative","scale":{"nice":false,"zero":false},"axis":null}},
"layer":[
{"transform":[{"filter":"datum.k==='dom'"}],"mark":{"type":"rect","opacity":0},"encoding":{"x2":{"field":"x2"},"y2":{"field":"y2"}}},
{"transform":[{"filter":"datum.k==='band'"}],"mark":{"type":"rect","fill":"#dfdfdf"},"encoding":{"x2":{"field":"x2"},"y2":{"field":"y2"}}},
{"transform":[{"filter":"datum.k==='frame'"}],"mark":{"type":"rect","fill":"#ffffff","fillOpacity":0,"stroke":"#333333","strokeWidth":1.6},"encoding":{"x2":{"field":"x2"},"y2":{"field":"y2"}}},
{"transform":[{"filter":"datum.k==='g'"}],"mark":{"type":"rule","color":"#1a1a1a","strokeWidth":1.2},"encoding":{"x2":{"field":"x2"},"y2":{"field":"y2"}}},
{"transform":[{"filter":"datum.k==='m'"}],"mark":{"type":"rect","fill":"#ffffff"},"encoding":{"x2":{"field":"x2"},"y2":{"field":"y2"}}},
{"transform":[{"filter":"datum.k==='box'"}],"mark":{"type":"rect","fill":"#ffffff","stroke":"#2a2a2a","strokeWidth":1.4},"encoding":{"x2":{"field":"x2"},"y2":{"field":"y2"}}},
{"transform":[{"filter":"datum.k==='border'"}],"mark":{"type":"rect","fill":"#ffffff","fillOpacity":0,"stroke":"#000000","strokeWidth":1.8},"encoding":{"x2":{"field":"x2"},"y2":{"field":"y2"}}},
{"transform":[{"filter":"datum.k==='c'"}],"mark":{"type":"line","color":"#000000","strokeWidth":1.6,"interpolate":"monotone"},"encoding":{"detail":{"field":"s","type":"nominal"}}},
{"transform":[{"filter":"datum.k==='p'"}],"mark":{"type":"rule","color":"#000000","strokeWidth":1.1},"encoding":{"x2":{"field":"x2"},"y2":{"field":"y2"}}},
{"transform":[{"filter":"datum.k==='yl'"}],"mark":{"type":"text","align":"right","baseline":"middle","fontSize":15},"encoding":{"text":{"field":"t"}}},
{"transform":[{"filter":"datum.k==='xl'"}],"mark":{"type":"text","align":"center","baseline":"middle","fontSize":15},"encoding":{"text":{"field":"t"}}},
{"transform":[{"filter":"datum.k==='tc'"}],"mark":{"type":"text","align":"center","baseline":"middle","fontSize":15},"encoding":{"text":{"field":"t"}}},
{"transform":[{"filter":"datum.k==='tl'"}],"mark":{"type":"text","align":"left","baseline":"middle","fontSize":15},"encoding":{"text":{"field":"t"}}},
{"transform":[{"filter":"datum.k==='ta'"}],"mark":{"type":"text","align":"left","baseline":"alphabetic","fontSize":15},"encoding":{"text":{"field":"t"}}},
{"transform":[{"filter":"datum.k==='sa'"}],"mark":{"type":"text","align":"left","baseline":"alphabetic","fontSize":10.5},"encoding":{"text":{"field":"t"}}},
{"transform":[{"filter":"datum.k==='sm'"}],"mark":{"type":"text","align":"left","baseline":"middle","fontSize":11},"encoding":{"text":{"field":"t"}}},
{"transform":[{"filter":"datum.k==='cap'"}],"mark":{"type":"text","align":"left","baseline":"alphabetic","fontSize":14.4,"font":"DejaVu Sans Condensed, DejaVu Sans"},"encoding":{"text":{"field":"t"}}},
{"transform":[{"filter":"datum.k==='caps'"}],"mark":{"type":"text","align":"left","baseline":"alphabetic","fontSize":10.5,"font":"DejaVu Sans Condensed, DejaVu Sans"},"encoding":{"text":{"field":"t"}}},
{"transform":[{"filter":"datum.k==='fid'"}],"mark":{"type":"text","align":"center","baseline":"middle","fontSize":8.5,"color":"#555555"},"encoding":{"text":{"field":"t"}}}
]},
{"width":500,"height":417.4,"data":{"name":"figs"},"transform":[{"filter":"datum.f==='2'"}],
"encoding":{"x":{"field":"x","type":"quantitative","scale":{"nice":false,"zero":false},"axis":null},"y":{"field":"y","type":"quantitative","scale":{"nice":false,"zero":false},"axis":null}},
"layer":[
{"transform":[{"filter":"datum.k==='dom'"}],"mark":{"type":"rect","opacity":0},"encoding":{"x2":{"field":"x2"},"y2":{"field":"y2"}}},
{"transform":[{"filter":"datum.k==='band'"}],"mark":{"type":"rect","fill":"#dfdfdf"},"encoding":{"x2":{"field":"x2"},"y2":{"field":"y2"}}},
{"transform":[{"filter":"datum.k==='frame'"}],"mark":{"type":"rect","fill":"#ffffff","fillOpacity":0,"stroke":"#333333","strokeWidth":1.6},"encoding":{"x2":{"field":"x2"},"y2":{"field":"y2"}}},
{"transform":[{"filter":"datum.k==='g'"}],"mark":{"type":"rule","color":"#1a1a1a","strokeWidth":1.2},"encoding":{"x2":{"field":"x2"},"y2":{"field":"y2"}}},
{"transform":[{"filter":"datum.k==='box'"}],"mark":{"type":"rect","fill":"#ffffff","stroke":"#2a2a2a","strokeWidth":1.4},"encoding":{"x2":{"field":"x2"},"y2":{"field":"y2"}}},
{"transform":[{"filter":"datum.k==='border'"}],"mark":{"type":"rect","fill":"#ffffff","fillOpacity":0,"stroke":"#000000","strokeWidth":1.8},"encoding":{"x2":{"field":"x2"},"y2":{"field":"y2"}}},
{"transform":[{"filter":"datum.k==='c'"}],"mark":{"type":"line","color":"#000000","strokeWidth":1.6},"encoding":{"detail":{"field":"s","type":"nominal"}}},
{"transform":[{"filter":"datum.k==='yl'"}],"mark":{"type":"text","align":"right","baseline":"middle","fontSize":15},"encoding":{"text":{"field":"t"}}},
{"transform":[{"filter":"datum.k==='xl'"}],"mark":{"type":"text","align":"center","baseline":"middle","fontSize":15},"encoding":{"text":{"field":"t"}}},
{"transform":[{"filter":"datum.k==='tc'"}],"mark":{"type":"text","align":"center","baseline":"middle","fontSize":15},"encoding":{"text":{"field":"t"}}},
{"transform":[{"filter":"datum.k==='ta'"}],"mark":{"type":"text","align":"left","baseline":"alphabetic","fontSize":15},"encoding":{"text":{"field":"t"}}},
{"transform":[{"filter":"datum.k==='sa'"}],"mark":{"type":"text","align":"left","baseline":"alphabetic","fontSize":10.5},"encoding":{"text":{"field":"t"}}},
{"transform":[{"filter":"datum.k==='sm'"}],"mark":{"type":"text","align":"left","baseline":"middle","fontSize":11},"encoding":{"text":{"field":"t"}}},
{"transform":[{"filter":"datum.k==='cap'"}],"mark":{"type":"text","align":"left","baseline":"alphabetic","fontSize":14.4,"font":"DejaVu Sans Condensed, DejaVu Sans"},"encoding":{"text":{"field":"t"}}},
{"transform":[{"filter":"datum.k==='caps'"}],"mark":{"type":"text","align":"left","baseline":"alphabetic","fontSize":10.5,"font":"DejaVu Sans Condensed, DejaVu Sans"},"encoding":{"text":{"field":"t"}}},
{"transform":[{"filter":"datum.k==='fid'"}],"mark":{"type":"text","align":"center","baseline":"middle","fontSize":8.5,"color":"#555555"},"encoding":{"text":{"field":"t"}}}
]}
],"spacing":23,"resolve":{"scale":{"x":"independent","y":"independent"}}},
{"hconcat":[
{"width":500,"height":417.4,"data":{"name":"figs"},"transform":[{"filter":"datum.f==='3'"}],
"encoding":{"x":{"field":"x","type":"quantitative","scale":{"nice":false,"zero":false},"axis":null},"y":{"field":"y","type":"quantitative","scale":{"nice":false,"zero":false},"axis":null}},
"layer":[
{"transform":[{"filter":"datum.k==='dom'"}],"mark":{"type":"rect","opacity":0},"encoding":{"x2":{"field":"x2"},"y2":{"field":"y2"}}},
{"transform":[{"filter":"datum.k==='band'"}],"mark":{"type":"rect","fill":"#dfdfdf"},"encoding":{"x2":{"field":"x2"},"y2":{"field":"y2"}}},
{"transform":[{"filter":"datum.k==='frame'"}],"mark":{"type":"rect","fill":"#ffffff","fillOpacity":0,"stroke":"#333333","strokeWidth":1.6},"encoding":{"x2":{"field":"x2"},"y2":{"field":"y2"}}},
{"transform":[{"filter":"datum.k==='g'"}],"mark":{"type":"rule","color":"#1a1a1a","strokeWidth":1.2},"encoding":{"x2":{"field":"x2"},"y2":{"field":"y2"}}},
{"transform":[{"filter":"datum.k==='m'"}],"mark":{"type":"rect","fill":"#ffffff"},"encoding":{"x2":{"field":"x2"},"y2":{"field":"y2"}}},
{"transform":[{"filter":"datum.k==='box'"}],"mark":{"type":"rect","fill":"#ffffff","stroke":"#2a2a2a","strokeWidth":1.4},"encoding":{"x2":{"field":"x2"},"y2":{"field":"y2"}}},
{"transform":[{"filter":"datum.k==='border'"}],"mark":{"type":"rect","fill":"#ffffff","fillOpacity":0,"stroke":"#000000","strokeWidth":1.8},"encoding":{"x2":{"field":"x2"},"y2":{"field":"y2"}}},
{"transform":[{"filter":"datum.k==='c'"}],"mark":{"type":"line","color":"#000000","strokeWidth":1.6,"interpolate":"monotone"},"encoding":{"detail":{"field":"s","type":"nominal"}}},
{"transform":[{"filter":"datum.k==='yl'"}],"mark":{"type":"text","align":"right","baseline":"middle","fontSize":15},"encoding":{"text":{"field":"t"}}},
{"transform":[{"filter":"datum.k==='xl'"}],"mark":{"type":"text","align":"center","baseline":"middle","fontSize":15},"encoding":{"text":{"field":"t"}}},
{"transform":[{"filter":"datum.k==='tc'"}],"mark":{"type":"text","align":"center","baseline":"middle","fontSize":15},"encoding":{"text":{"field":"t"}}},
{"transform":[{"filter":"datum.k==='ta'"}],"mark":{"type":"text","align":"left","baseline":"alphabetic","fontSize":15},"encoding":{"text":{"field":"t"}}},
{"transform":[{"filter":"datum.k==='sa'"}],"mark":{"type":"text","align":"left","baseline":"alphabetic","fontSize":10.5},"encoding":{"text":{"field":"t"}}},
{"transform":[{"filter":"datum.k==='sm'"}],"mark":{"type":"text","align":"left","baseline":"middle","fontSize":11},"encoding":{"text":{"field":"t"}}},
{"transform":[{"filter":"datum.k==='cap'"}],"mark":{"type":"text","align":"left","baseline":"alphabetic","fontSize":14.4,"font":"DejaVu Sans Condensed, DejaVu Sans"},"encoding":{"text":{"field":"t"}}},
{"transform":[{"filter":"datum.k==='caps'"}],"mark":{"type":"text","align":"left","baseline":"alphabetic","fontSize":10.5,"font":"DejaVu Sans Condensed, DejaVu Sans"},"encoding":{"text":{"field":"t"}}},
{"transform":[{"filter":"datum.k==='fid'"}],"mark":{"type":"text","align":"center","baseline":"middle","fontSize":8.5,"color":"#555555"},"encoding":{"text":{"field":"t"}}}
]},
{"width":500,"height":417.4,"data":{"name":"figs"},"transform":[{"filter":"datum.f==='4'"}],
"encoding":{"x":{"field":"x","type":"quantitative","scale":{"nice":false,"zero":false},"axis":null},"y":{"field":"y","type":"quantitative","scale":{"nice":false,"zero":false},"axis":null}},
"layer":[
{"transform":[{"filter":"datum.k==='dom'"}],"mark":{"type":"rect","opacity":0},"encoding":{"x2":{"field":"x2"},"y2":{"field":"y2"}}},
{"transform":[{"filter":"datum.k==='band'"}],"mark":{"type":"rect","fill":"#dfdfdf"},"encoding":{"x2":{"field":"x2"},"y2":{"field":"y2"}}},
{"transform":[{"filter":"datum.k==='frame'"}],"mark":{"type":"rect","fill":"#ffffff","fillOpacity":0,"stroke":"#333333","strokeWidth":1.6},"encoding":{"x2":{"field":"x2"},"y2":{"field":"y2"}}},
{"transform":[{"filter":"datum.k==='g'"}],"mark":{"type":"rule","color":"#1a1a1a","strokeWidth":1.2},"encoding":{"x2":{"field":"x2"},"y2":{"field":"y2"}}},
{"transform":[{"filter":"datum.k==='m'"}],"mark":{"type":"rect","fill":"#ffffff"},"encoding":{"x2":{"field":"x2"},"y2":{"field":"y2"}}},
{"transform":[{"filter":"datum.k==='box'"}],"mark":{"type":"rect","fill":"#ffffff","stroke":"#2a2a2a","strokeWidth":1.4},"encoding":{"x2":{"field":"x2"},"y2":{"field":"y2"}}},
{"transform":[{"filter":"datum.k==='border'"}],"mark":{"type":"rect","fill":"#ffffff","fillOpacity":0,"stroke":"#000000","strokeWidth":1.8},"encoding":{"x2":{"field":"x2"},"y2":{"field":"y2"}}},
{"transform":[{"filter":"datum.k==='c'"}],"mark":{"type":"line","color":"#000000","strokeWidth":1.6,"interpolate":"monotone"},"encoding":{"detail":{"field":"s","type":"nominal"}}},
{"transform":[{"filter":"datum.k==='yl'"}],"mark":{"type":"text","align":"right","baseline":"middle","fontSize":15},"encoding":{"text":{"field":"t"}}},
{"transform":[{"filter":"datum.k==='xl'"}],"mark":{"type":"text","align":"center","baseline":"middle","fontSize":15},"encoding":{"text":{"field":"t"}}},
{"transform":[{"filter":"datum.k==='tc'"}],"mark":{"type":"text","align":"center","baseline":"middle","fontSize":15},"encoding":{"text":{"field":"t"}}},
{"transform":[{"filter":"datum.k==='ta'"}],"mark":{"type":"text","align":"left","baseline":"alphabetic","fontSize":15},"encoding":{"text":{"field":"t"}}},
{"transform":[{"filter":"datum.k==='sa'"}],"mark":{"type":"text","align":"left","baseline":"alphabetic","fontSize":10.5},"encoding":{"text":{"field":"t"}}},
{"transform":[{"filter":"datum.k==='sm'"}],"mark":{"type":"text","align":"left","baseline":"middle","fontSize":11},"encoding":{"text":{"field":"t"}}},
{"transform":[{"filter":"datum.k==='cap'"}],"mark":{"type":"text","align":"left","baseline":"alphabetic","fontSize":14.4,"font":"DejaVu Sans Condensed, DejaVu Sans"},"encoding":{"text":{"field":"t"}}},
{"transform":[{"filter":"datum.k==='caps'"}],"mark":{"type":"text","align":"left","baseline":"alphabetic","fontSize":10.5,"font":"DejaVu Sans Condensed, DejaVu Sans"},"encoding":{"text":{"field":"t"}}},
{"transform":[{"filter":"datum.k==='fid'"}],"mark":{"type":"text","align":"center","baseline":"middle","fontSize":8.5,"color":"#555555"},"encoding":{"text":{"field":"t"}}}
]}
],"spacing":23,"resolve":{"scale":{"x":"independent","y":"independent"}}},
{"hconcat":[
{"width":500,"height":417.4,"data":{"name":"figs"},"transform":[{"filter":"datum.f==='5'"}],
"encoding":{"x":{"field":"x","type":"quantitative","scale":{"nice":false,"zero":false},"axis":null},"y":{"field":"y","type":"quantitative","scale":{"nice":false,"zero":false},"axis":null}},
"layer":[
{"transform":[{"filter":"datum.k==='dom'"}],"mark":{"type":"rect","opacity":0},"encoding":{"x2":{"field":"x2"},"y2":{"field":"y2"}}},
{"transform":[{"filter":"datum.k==='band'"}],"mark":{"type":"rect","fill":"#dfdfdf"},"encoding":{"x2":{"field":"x2"},"y2":{"field":"y2"}}},
{"transform":[{"filter":"datum.k==='frame'"}],"mark":{"type":"rect","fill":"#ffffff","fillOpacity":0,"stroke":"#333333","strokeWidth":1.6},"encoding":{"x2":{"field":"x2"},"y2":{"field":"y2"}}},
{"transform":[{"filter":"datum.k==='g'"}],"mark":{"type":"rule","color":"#1a1a1a","strokeWidth":1.2},"encoding":{"x2":{"field":"x2"},"y2":{"field":"y2"}}},
{"transform":[{"filter":"datum.k==='box'"}],"mark":{"type":"rect","fill":"#ffffff","stroke":"#2a2a2a","strokeWidth":1.4},"encoding":{"x2":{"field":"x2"},"y2":{"field":"y2"}}},
{"transform":[{"filter":"datum.k==='border'"}],"mark":{"type":"rect","fill":"#ffffff","fillOpacity":0,"stroke":"#000000","strokeWidth":1.8},"encoding":{"x2":{"field":"x2"},"y2":{"field":"y2"}}},
{"transform":[{"filter":"datum.k==='c'"}],"mark":{"type":"line","color":"#000000","strokeWidth":1.6,"interpolate":"monotone"},"encoding":{"detail":{"field":"s","type":"nominal"}}},
{"transform":[{"filter":"datum.k==='yl'"}],"mark":{"type":"text","align":"right","baseline":"middle","fontSize":15},"encoding":{"text":{"field":"t"}}},
{"transform":[{"filter":"datum.k==='xl'"}],"mark":{"type":"text","align":"center","baseline":"middle","fontSize":15},"encoding":{"text":{"field":"t"}}},
{"transform":[{"filter":"datum.k==='tc'"}],"mark":{"type":"text","align":"center","baseline":"middle","fontSize":15},"encoding":{"text":{"field":"t"}}},
{"transform":[{"filter":"datum.k==='ta'"}],"mark":{"type":"text","align":"left","baseline":"alphabetic","fontSize":15},"encoding":{"text":{"field":"t"}}},
{"transform":[{"filter":"datum.k==='sa'"}],"mark":{"type":"text","align":"left","baseline":"alphabetic","fontSize":10.5},"encoding":{"text":{"field":"t"}}},
{"transform":[{"filter":"datum.k==='sm'"}],"mark":{"type":"text","align":"left","baseline":"middle","fontSize":11},"encoding":{"text":{"field":"t"}}},
{"transform":[{"filter":"datum.k==='cap'"}],"mark":{"type":"text","align":"left","baseline":"alphabetic","fontSize":14.4,"font":"DejaVu Sans Condensed, DejaVu Sans"},"encoding":{"text":{"field":"t"}}},
{"transform":[{"filter":"datum.k==='fid'"}],"mark":{"type":"text","align":"center","baseline":"middle","fontSize":8.5,"color":"#555555"},"encoding":{"text":{"field":"t"}}}
]},
{"width":500,"height":417.4,"data":{"name":"figs"},"transform":[{"filter":"datum.f==='6'"}],
"encoding":{"x":{"field":"x","type":"quantitative","scale":{"nice":false,"zero":false},"axis":null},"y":{"field":"y","type":"quantitative","scale":{"nice":false,"zero":false},"axis":null}},
"layer":[
{"transform":[{"filter":"datum.k==='dom'"}],"mark":{"type":"rect","opacity":0},"encoding":{"x2":{"field":"x2"},"y2":{"field":"y2"}}},
{"transform":[{"filter":"datum.k==='band'"}],"mark":{"type":"rect","fill":"#dfdfdf"},"encoding":{"x2":{"field":"x2"},"y2":{"field":"y2"}}},
{"transform":[{"filter":"datum.k==='frame'"}],"mark":{"type":"rect","fill":"#ffffff","fillOpacity":0,"stroke":"#333333","strokeWidth":1.6},"encoding":{"x2":{"field":"x2"},"y2":{"field":"y2"}}},
{"transform":[{"filter":"datum.k==='g'"}],"mark":{"type":"rule","color":"#1a1a1a","strokeWidth":1.2},"encoding":{"x2":{"field":"x2"},"y2":{"field":"y2"}}},
{"transform":[{"filter":"datum.k==='m'"}],"mark":{"type":"rect","fill":"#ffffff"},"encoding":{"x2":{"field":"x2"},"y2":{"field":"y2"}}},
{"transform":[{"filter":"datum.k==='box'"}],"mark":{"type":"rect","fill":"#ffffff","stroke":"#2a2a2a","strokeWidth":1.4},"encoding":{"x2":{"field":"x2"},"y2":{"field":"y2"}}},
{"transform":[{"filter":"datum.k==='border'"}],"mark":{"type":"rect","fill":"#ffffff","fillOpacity":0,"stroke":"#000000","strokeWidth":1.8},"encoding":{"x2":{"field":"x2"},"y2":{"field":"y2"}}},
{"transform":[{"filter":"datum.k==='c'"}],"mark":{"type":"line","color":"#000000","strokeWidth":1.6},"encoding":{"detail":{"field":"s","type":"nominal"}}},
{"transform":[{"filter":"datum.k==='yl'"}],"mark":{"type":"text","align":"right","baseline":"middle","fontSize":15},"encoding":{"text":{"field":"t"}}},
{"transform":[{"filter":"datum.k==='xl'"}],"mark":{"type":"text","align":"center","baseline":"middle","fontSize":15},"encoding":{"text":{"field":"t"}}},
{"transform":[{"filter":"datum.k==='tc'"}],"mark":{"type":"text","align":"center","baseline":"middle","fontSize":15},"encoding":{"text":{"field":"t"}}},
{"transform":[{"filter":"datum.k==='tl'"}],"mark":{"type":"text","align":"left","baseline":"middle","fontSize":15},"encoding":{"text":{"field":"t"}}},
{"transform":[{"filter":"datum.k==='ta'"}],"mark":{"type":"text","align":"left","baseline":"alphabetic","fontSize":15},"encoding":{"text":{"field":"t"}}},
{"transform":[{"filter":"datum.k==='sa'"}],"mark":{"type":"text","align":"left","baseline":"alphabetic","fontSize":10.5},"encoding":{"text":{"field":"t"}}},
{"transform":[{"filter":"datum.k==='sm'"}],"mark":{"type":"text","align":"left","baseline":"middle","fontSize":11},"encoding":{"text":{"field":"t"}}},
{"transform":[{"filter":"datum.k==='cap'"}],"mark":{"type":"text","align":"left","baseline":"alphabetic","fontSize":14.4,"font":"DejaVu Sans Condensed, DejaVu Sans"},"encoding":{"text":{"field":"t"}}},
{"transform":[{"filter":"datum.k==='fid'"}],"mark":{"type":"text","align":"center","baseline":"middle","fontSize":8.5,"color":"#555555"},"encoding":{"text":{"field":"t"}}}
]}
],"spacing":23,"resolve":{"scale":{"x":"independent","y":"independent"}}},
{
"width":1022,"height":112.7,
"data":{"values":[
{"k":"bar","x":0,"x2":100,"y":0,"y2":100},
{"k":"l","x":0.1,"y":51.9,"t":"4"},
{"k":"c","x":46.88,"y":51.9,"t":"03-12-2008\u00a0 SEI"},
{"k":"r","x":99.3,"y":51.9,"t":"© by SEMIKRON"}
]},
"encoding":{"x":{"field":"x","type":"quantitative","scale":{"domain":[-0.393,100],"nice":false,"zero":false},"axis":null},"y":{"field":"y","type":"quantitative","scale":{"domain":[0,417.4],"nice":false,"zero":false},"axis":null}},
"layer":[
{"transform":[{"filter":"datum.k==='bar'"}],"mark":{"type":"rect","fill":"#808080"},"encoding":{"x2":{"field":"x2"},"y2":{"field":"y2"}}},
{"transform":[{"filter":"datum.k==='l'"}],"mark":{"type":"text","align":"left","baseline":"middle","font":"DejaVu Sans Condensed, DejaVu Sans","fontWeight":300,"fontSize":23,"color":"#ffffff"},"encoding":{"text":{"field":"t"}}},
{"transform":[{"filter":"datum.k==='c'"}],"mark":{"type":"text","align":"center","baseline":"middle","font":"DejaVu Sans Condensed, DejaVu Sans","fontWeight":300,"fontSize":23,"color":"#ffffff"},"encoding":{"text":{"field":"t"}}},
{"transform":[{"filter":"datum.k==='r'"}],"mark":{"type":"text","align":"right","baseline":"middle","font":"DejaVu Sans Condensed, DejaVu Sans","fontWeight":300,"fontSize":23,"color":"#ffffff"},"encoding":{"text":{"field":"t"}}}
]
}
]
}
